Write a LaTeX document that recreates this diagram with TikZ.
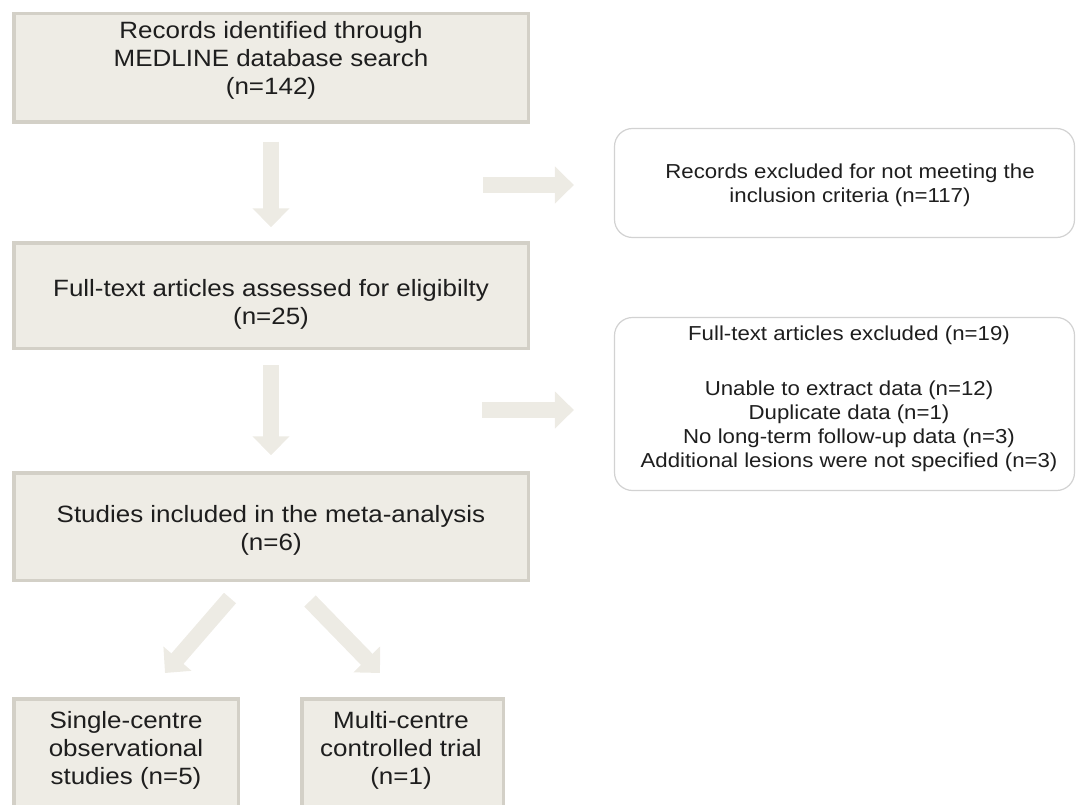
\documentclass[tikz,border=0pt]{standalone}
\usepackage{fontspec}
\setmainfont{Liberation Sans}[FakeStretch=1.1]
\usetikzlibrary{arrows.meta}
\definecolor{boxfill}{HTML}{EEECE5}
\definecolor{boxline}{HTML}{D3D0C7}
\definecolor{arrowfill}{HTML}{EDEBE4}
\definecolor{roundline}{HTML}{D2D2D2}
\definecolor{txt}{HTML}{1E1E1E}
\begin{document}
\begin{tikzpicture}[x=1pt,y=-1pt,
  mainbox/.style={draw=boxline, fill=boxfill, line width=3.5pt, inner sep=0pt},
  sidebox/.style={draw=roundline, fill=white, line width=1.2pt, rounded corners=18pt, inner sep=0pt},
  maintext/.style={font=\fontsize{23.6}{28}\selectfont, text=txt, align=center, inner sep=0pt},
  sidetext/.style={font=\fontsize{20.2}{24}\selectfont, text=txt, align=center, inner sep=0pt},
  blockarrow/.style={draw=arrowfill, line width=16pt, -{Triangle[width=36pt,length=19pt]}}]
\useasboundingbox (0,0) rectangle (1078,805);
\clip (0,0) rectangle (1078,805);

% main boxes
\node[mainbox, minimum width=514.5pt, minimum height=108.5pt] (b1) at (271,68) {};
\node[mainbox, minimum width=514.5pt, minimum height=105.5pt] (b2) at (271,295.5) {};
\node[mainbox, minimum width=514.5pt, minimum height=107.5pt] (b3) at (271,526.5) {};
\node[mainbox, minimum width=224.5pt, minimum height=129.5pt] (b4) at (126,763.5) {};
\node[mainbox, minimum width=201.5pt, minimum height=129.5pt] (b5) at (402.5,763.5) {};

% side boxes
\node[sidebox, minimum width=460pt, minimum height=109pt] (r1) at (844.5,183) {};
\node[sidebox, minimum width=460pt, minimum height=173pt] (r2) at (844.5,404) {};

% texts
\node[maintext] (t1) at (271,60) {Records identified through\\MEDLINE database search\\(n=142)};
\node[maintext] (t2) at (271,304) {Full-text articles assessed for eligibilty\\(n=25)};
\node[maintext] (t3) at (271,530) {Studies included in the meta-analysis\\(n=6)};
\node[maintext] (t4) at (126,750) {Single-centre\\observational\\studies (n=5)};
\node[maintext] (t5) at (401,750) {Multi-centre\\controlled trial\\(n=1)};
\node[sidetext] (s1) at (850,185) {Records excluded for not meeting the\\inclusion criteria (n=117)};
\node[sidetext, anchor=north] (s2) at (849,326) {Full-text articles excluded (n=19)\\[31pt]Unable to extract data (n=12)\\Duplicate data (n=1)\\No long-term follow-up data (n=3)\\Additional lesions were not specified (n=3)};

% arrows
\draw[blockarrow, shorten <=17.75pt, shorten >=13.75pt] (b1.south) -- (b2.north);
\draw[blockarrow, shorten <=14.75pt, shorten >=15.75pt] (b2.south) -- (b3.north);
\coordinate (h1) at (483,185);
\coordinate (h2) at (482,410);
\draw[blockarrow, shorten >=40pt] (h1) -- (h1 -| r1.west);
\draw[blockarrow, shorten >=40pt] (h2) -- (h2 -| r2.west);
\coordinate (d1a) at (230,598);
\coordinate (d1b) at (165,673);
\coordinate (d2a) at (310,601);
\coordinate (d2b) at (380,673);
\draw[blockarrow] (d1a) -- (d1b);
\draw[blockarrow] (d2a) -- (d2b);
\end{tikzpicture}
\end{document}
